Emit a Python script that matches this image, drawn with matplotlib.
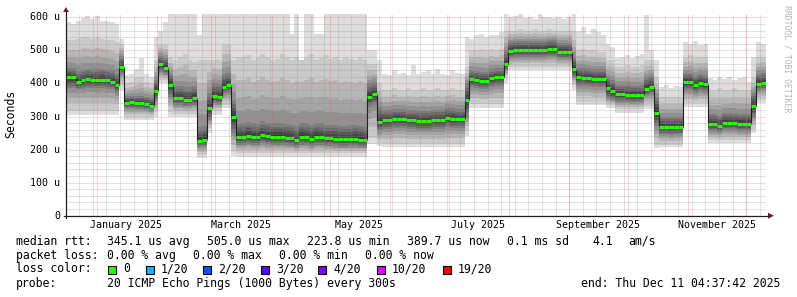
import datetime as dt
import numpy as np
import matplotlib
matplotlib.use("Agg")
import matplotlib.pyplot as plt
from matplotlib.lines import Line2D
from matplotlib.patches import Rectangle, Polygon

# ---------------- data (values in microseconds, one entry per 2.5-day step) ----------------
start_time = dt.datetime(2024, 12, 16, 4, 37, 42)
end_time = dt.datetime(2025, 12, 11, 4, 37, 42)
step_days = 2.5

median = [
    420, 418, 404, 409, 412, 411, 410, 411, 409, 405, 394, 450,
    342, 343, 341, 341, 338, 333, 378, 458, 448, 395, 356, 355,
    349, 350, 355, 226, 230, 325, 362, 358, 390, 394, 299, 237,
    238, 242, 238, 237, 244, 240, 239, 239, 239, 236, 234, 229,
    239, 238, 233, 239, 238, 234, 234, 233, 231, 231, 232, 233,
    230, 228, 360, 367, 284, 288, 288, 291, 291, 291, 288, 288,
    286, 286, 286, 289, 289, 289, 295, 293, 291, 291, 350, 412,
    410, 408, 408, 415, 418, 418, 458, 497, 500, 501, 500, 500,
    500, 500, 501, 503, 503, 495, 495, 494, 445, 418, 417, 416,
    413, 413, 413, 385, 376, 367, 367, 366, 364, 364, 365, 383,
    390, 312, 268, 268, 267, 268, 268, 404, 404, 395, 402, 398,
    277, 277, 272, 281, 281, 281, 278, 278, 278, 332, 399, 401,
]
# slowest / fastest ping of each step
ping_min = [
    305, 305, 305, 305, 305, 305, 305, 305, 305, 305, 305, 380,
    288, 288, 288, 288, 288, 288, 300, 400, 400, 300, 298, 298,
    298, 298, 298, 175, 175, 250, 305, 305, 325, 325, 180, 177,
    177, 177, 177, 177, 177, 177, 177, 177, 177, 177, 177, 177,
    177, 177, 177, 177, 177, 177, 177, 177, 177, 177, 177, 177,
    177, 177, 218, 218, 210, 207, 207, 207, 207, 207, 207, 207,
    207, 207, 207, 207, 207, 207, 207, 207, 207, 207, 240, 325,
    325, 325, 325, 325, 325, 325, 400, 440, 440, 440, 440, 440,
    440, 440, 440, 440, 440, 440, 440, 440, 380, 335, 335, 335,
    335, 335, 335, 325, 325, 312, 312, 312, 312, 312, 312, 322,
    322, 205, 208, 208, 208, 208, 208, 330, 330, 330, 330, 330,
    220, 220, 220, 220, 220, 220, 220, 220, 220, 250, 340, 340,
]
ping_max = [
    585, 580, 590, 598, 605, 596, 605, 590, 588, 585, 580, 535,
    425, 430, 445, 476, 430, 418, 540, 560, 585, 610, 610, 610,
    610, 610, 610, 548, 610, 610, 610, 610, 610, 610, 610, 610,
    610, 610, 610, 610, 610, 610, 610, 610, 610, 610, 550, 610,
    380, 610, 610, 550, 550, 610, 610, 610, 610, 610, 610, 610,
    610, 610, 502, 502, 470, 430, 425, 440, 428, 432, 425, 455,
    430, 435, 440, 428, 445, 430, 425, 440, 432, 428, 540, 535,
    545, 550, 540, 548, 545, 555, 610, 600, 605, 610, 598, 600,
    595, 610, 600, 602, 598, 600, 595, 600, 610, 560, 570, 550,
    565, 555, 545, 520, 510, 478, 480, 485, 478, 482, 490, 607,
    500, 470, 390, 395, 385, 392, 388, 525, 520, 528, 515, 520,
    415, 410, 420, 412, 418, 410, 415, 420, 405, 480, 525, 520,
]
# 2nd fastest / 2nd slowest ping
ping_low = [
    318, 318, 318, 318, 318, 318, 318, 318, 318, 318, 318, 395,
    298, 298, 298, 298, 298, 298, 315, 410, 410, 315, 308, 308,
    308, 308, 308, 185, 185, 265, 318, 318, 335, 335, 195, 190,
    190, 190, 190, 190, 190, 190, 190, 190, 190, 190, 190, 190,
    190, 190, 190, 190, 190, 190, 190, 190, 190, 190, 190, 190,
    190, 190, 235, 235, 220, 218, 218, 218, 218, 218, 218, 218,
    218, 218, 218, 218, 218, 218, 218, 218, 218, 218, 255, 338,
    338, 338, 338, 338, 338, 338, 420, 450, 450, 450, 450, 450,
    450, 450, 450, 450, 450, 450, 450, 450, 395, 345, 345, 345,
    345, 345, 345, 335, 335, 322, 322, 322, 322, 322, 322, 332,
    332, 215, 215, 215, 215, 215, 215, 340, 340, 340, 340, 340,
    228, 228, 228, 228, 228, 228, 228, 228, 228, 260, 350, 350,
]
ping_high = [
    530, 530, 535, 540, 540, 535, 540, 535, 530, 530, 525, 520,
    400, 405, 415, 420, 405, 400, 470, 520, 520, 480, 470, 480,
    490, 470, 465, 470, 470, 470, 470, 470, 520, 520, 470, 480,
    480, 485, 470, 480, 490, 480, 470, 475, 490, 480, 470, 480,
    470, 480, 490, 470, 480, 485, 475, 480, 470, 480, 475, 470,
    480, 470, 460, 460, 400, 380, 380, 385, 380, 380, 385, 380,
    380, 385, 380, 380, 385, 380, 380, 385, 380, 380, 450, 500,
    500, 505, 500, 505, 500, 505, 560, 560, 560, 565, 560, 560,
    565, 560, 560, 565, 560, 560, 560, 560, 560, 500, 505, 500,
    500, 495, 495, 470, 470, 450, 450, 455, 450, 450, 455, 470,
    470, 420, 360, 360, 360, 360, 360, 480, 485, 480, 480, 480,
    380, 380, 385, 380, 380, 385, 380, 380, 380, 420, 480, 480,
]
# 6th fastest / 6th slowest ping (edges of the dark core)
core_low = [
    385, 385, 382, 384, 386, 386, 385, 386, 384, 382, 372, 430,
    325, 326, 324, 324, 322, 318, 350, 435, 430, 360, 335, 335,
    332, 333, 336, 208, 210, 290, 340, 338, 370, 372, 250, 214,
    215, 218, 215, 214, 220, 216, 215, 215, 215, 213, 212, 208,
    215, 214, 210, 215, 214, 211, 211, 210, 209, 209, 210, 210,
    208, 207, 330, 335, 255, 262, 262, 264, 264, 264, 262, 262,
    260, 260, 260, 262, 262, 262, 267, 265, 264, 264, 300, 388,
    386, 384, 384, 390, 392, 392, 440, 478, 480, 481, 480, 480,
    480, 480, 481, 482, 482, 476, 476, 475, 420, 393, 392, 391,
    389, 389, 389, 355, 350, 345, 345, 344, 343, 343, 344, 365,
    368, 270, 246, 246, 245, 246, 246, 380, 380, 372, 378, 375,
    256, 256, 252, 259, 259, 259, 256, 256, 256, 300, 380, 382,
]
core_high = [
    448, 446, 438, 442, 445, 444, 444, 445, 442, 440, 430, 482,
    362, 363, 362, 363, 360, 356, 410, 484, 478, 430, 392, 392,
    388, 388, 392, 268, 270, 370, 400, 398, 430, 432, 350, 278,
    279, 283, 279, 278, 285, 281, 280, 280, 280, 277, 275, 270,
    280, 279, 274, 280, 279, 275, 275, 274, 272, 272, 273, 274,
    271, 269, 400, 405, 330, 320, 320, 323, 323, 323, 320, 320,
    318, 318, 318, 321, 321, 321, 327, 325, 323, 323, 400, 440,
    438, 436, 436, 443, 446, 446, 500, 526, 528, 529, 528, 528,
    528, 528, 529, 531, 531, 523, 523, 522, 480, 448, 447, 446,
    443, 443, 443, 420, 410, 396, 396, 395, 393, 393, 394, 418,
    424, 360, 300, 300, 299, 300, 300, 432, 432, 424, 430, 426,
    308, 308, 303, 312, 312, 312, 309, 309, 309, 370, 430, 432,
]

y_ticks = [0, 100, 200, 300, 400, 500, 600]
y_tick_labels = ["0", "100 u", "200 u", "300 u", "400 u", "500 u", "600 u"]
month_labels = ["January 2025", "March 2025", "May 2025", "July 2025",
                "September 2025", "November 2025"]
month_label_dates = [dt.datetime(2025, m, 1) for m in (1, 3, 5, 7, 9, 11)]

legend_rows = [
    [(16, "median rtt:"), (107, "345.1 us avg"), (207, "505.0 us max"),
     (307, "223.8 us min"), (407, "389.7 us now"), (507, "0.1 ms sd"),
     (592, "4.1"), (628, "am/s")],
    [(16, "packet loss:"), (107, "0.00 % avg"), (193, "0.00 % max"),
     (279, "0.00 % min"), (365, "0.00 % now")],
    [(16, "loss color:")],
    [(16, "probe:"), (107, "20 ICMP Echo Pings (1000 Bytes) every 300s")],
]
loss_labels = ["0", "1/20", "2/20", "3/20", "4/20", "10/20", "19/20"]
loss_colors = ["#26ff00", "#00b8ff", "#0059ff", "#5e00ff", "#7e00ff", "#dd00ff", "#ff0000"]
end_label = "end: Thu Dec 11 04:37:42 2025"
side_label = "RRDTOOL / TOBI OETIKER"

# ---------------- layout ----------------
W, H = 797, 297
fig = plt.figure(figsize=(W / 100, H / 100), dpi=100)
fig.patch.set_facecolor("white")

X0, X1 = 66.0, 766.0
Y0, Y1 = 215.7, 14.0
ax = fig.add_axes([X0 / W, 1 - Y0 / H, (X1 - X0) / W, (Y0 - Y1) / H])
total_days = (end_time - start_time).total_seconds() / 86400
ax.set_xlim(0, total_days)
ax.set_ylim(0, 610)
ax.axis("off")

def px(x, y):
    return x / W, 1 - y / H

def day_of(d):
    return (d - start_time).total_seconds() / 86400

mono = "DejaVu Sans Mono"

# ---------------- smoke (nested areas, lightest outside) ----------------
med = np.array(median, float)
pmin, pmax = np.array(ping_min, float), np.array(ping_max, float)
plo, phi = np.array(ping_low, float), np.array(ping_high, float)
clo, chi = np.array(core_low, float), np.array(core_high, float)
n = len(med)
xe = np.arange(n + 1) * step_days

def ext(a):
    return np.append(a, a[-1])

outer_f = [0.345, 0.607, 0.81]        # pings 3..5 between ping 2 and ping 6
inner_f = [0.75, 0.53, 0.32, 0.105]   # pings 7..10 between ping 6 and median
edges = [(pmin, pmax), (plo, phi)]
for f in outer_f:
    edges.append((plo + (clo - plo) * f, phi - (phi - chi) * f))
edges.append((clo, chi))
for f in inner_f:
    edges.append((med - (med - clo) * f, med + (chi - med) * f))
for i, (lo, hi) in enumerate(edges, start=1):
    gray = (19 * (10 - i) + 50) / 255.0
    ax.fill_between(xe, ext(lo), ext(hi), step="post", color=(gray, gray, gray),
                    lw=0, zorder=1)

# ---------------- grid ----------------
grid_c = (0.56, 0.56, 0.56, 0.5)
mgrid_c = (0.87, 0.31, 0.31, 0.45)
dash = (0, (1, 1))
for v in range(20, 610, 20):
    if v % 100 == 0:
        continue
    ax.axhline(v, color=grid_c, lw=0.72, ls=dash, zorder=3)
d = dt.datetime(2024, 12, 16)
while d < end_time:
    if d.weekday() == 0 and day_of(d) > 0:
        ax.axvline(day_of(d), color=grid_c, lw=0.72, ls=dash, zorder=3)
    d += dt.timedelta(days=1)
for m in range(1, 13):
    ax.axvline(day_of(dt.datetime(2025, m, 1)), color=mgrid_c, lw=0.72, ls=dash, zorder=3)
for v in y_ticks[1:]:
    ax.axhline(v, color=mgrid_c, lw=0.72, ls=dash, zorder=3)

# ---------------- median line ----------------
ax.step(xe, ext(med), where="post", color="#202020", lw=0.8, zorder=4)
ax.hlines(med, xe[:-1], xe[1:], color=loss_colors[0], lw=2.2, zorder=5)

# ---------------- axes & arrows ----------------
axis_c = "#1f1f1f"
arrow_c = "#801f1f"
fig.add_artist(Line2D(*zip(px(X0, Y0 + 2), px(X0, 11)), color=axis_c, lw=0.9))
fig.add_artist(Line2D(*zip(px(X0 - 2, Y0), px(769, Y0)), color=axis_c, lw=0.9))
fig.add_artist(Polygon([px(X0 - 3, 12), px(X0 + 3, 12), px(X0, 7)], closed=True,
                       color=arrow_c, lw=0))
fig.add_artist(Polygon([px(768, Y0 - 3), px(768, Y0 + 3), px(774, Y0)], closed=True,
                       color=arrow_c, lw=0))

# ---------------- tick labels ----------------
for v, lab in zip(y_ticks, y_tick_labels):
    yp = Y0 - v * (Y0 - Y1) / 610
    fig.text(*px(60, yp), lab, ha="right", va="center", family=mono, fontsize=7.2)
for dte, lab in zip(month_label_dates, month_labels):
    xp = X0 + (day_of(dte) + 15) * (X1 - X0) / total_days
    fig.text(*px(xp, 224.5), lab, ha="center", va="center", family=mono, fontsize=7.2)

fig.text(*px(11, 114), "Seconds", rotation=90, ha="center", va="center",
         family=mono, fontsize=8.3)
fig.text(*px(787, 5), side_label, rotation=-90, ha="center", va="top",
         family=mono, fontsize=5.9, color="#b4b4b4")

# ---------------- legend ----------------
row_y = [241.5, 255.3, 269.0, 283.3]
for y, row in zip(row_y, legend_rows):
    for x, s in row:
        fig.text(*px(x, y), s, ha="left", va="center", family=mono, fontsize=8.3)
box_x = [108, 146, 203, 261, 318, 377, 443]
for bx, lab, col in zip(box_x, loss_labels, loss_colors):
    fx, fy = px(bx, 273.5)
    fig.add_artist(Rectangle((fx, fy), 8 / W, 8 / H, facecolor=col,
                             edgecolor="black", lw=0.8, transform=fig.transFigure))
    fig.text(*px(bx + 15, row_y[2]), lab, ha="left", va="center", family=mono, fontsize=8.3)
fig.text(*px(780, row_y[3]), end_label, ha="right", va="center", family=mono, fontsize=8.3)

fig.savefig("out.png", dpi=100, facecolor="white")
